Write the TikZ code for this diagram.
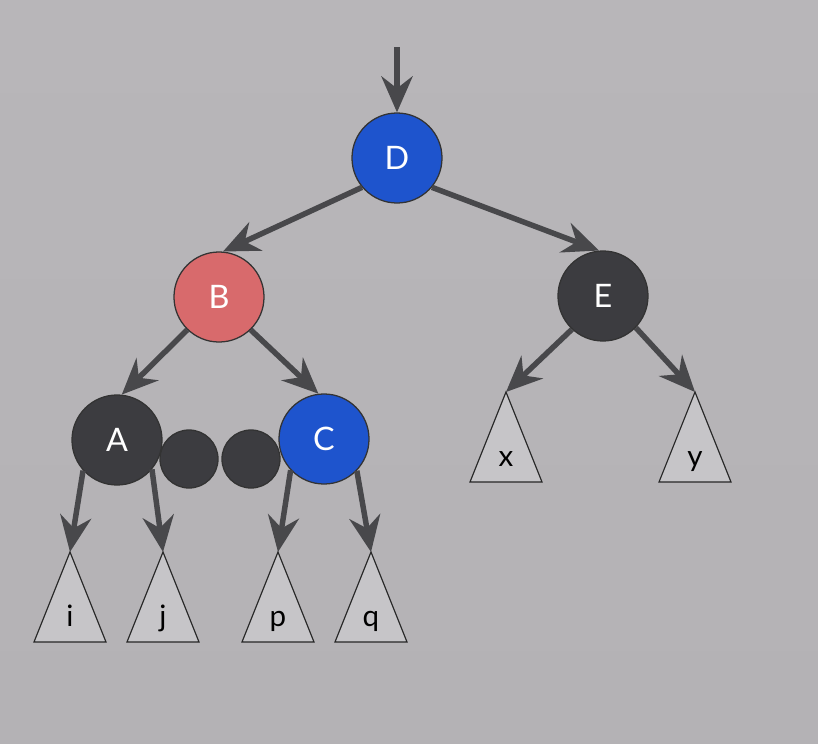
\documentclass[tikz,border=0pt]{standalone}
\usepackage{fontspec}
\setmainfont{Lato}
\usetikzlibrary{positioning,calc}
\usetikzlibrary{arrows.meta}
\definecolor{TreeBlue}{RGB}{30,84,205}
\definecolor{TreeRed}{RGB}{216,106,108}
\definecolor{TreeDark}{RGB}{60,60,64}
\definecolor{EdgeGray}{RGB}{72,72,75}
\definecolor{LeafGray}{RGB}{198,197,200}
\definecolor{BgTop}{RGB}{186,184,187}
\definecolor{BgMid}{RGB}{180,178,181}
\definecolor{BgBot}{RGB}{152,150,153}
\pgfdeclareverticalshading{backdrop}{100bp}{color(0bp)=(BgBot); color(25bp)=(BgMid); color(100bp)=(BgTop)}
\tikzset{
	rb/.style={circle,draw=black!80,line width=0.9pt,inner sep=0pt,minimum size=2.25cm,
		text=white,font=\fontsize{23}{23}\selectfont},
	bluenode/.style={rb,fill=TreeBlue},
	rednode/.style={rb,fill=TreeRed},
	blacknode/.style={rb,fill=TreeDark},
	nil/.style={circle,draw=black!80,line width=0.9pt,fill=TreeDark,inner sep=0pt,minimum size=1.45cm},
	edge/.style={draw=EdgeGray,line width=3.9pt,-{Stealth[length=0.9cm,width=0.78cm,inset=0.3cm]}},
	leaf/.style={draw=black!85,fill=LeafGray,line width=0.8pt},
	leaflabel/.style={font=\fontsize{21}{21}\selectfont,text=black,inner sep=0pt,anchor=base},
}

\begin{document}
\begin{tikzpicture}[x=0.025cm,y=-0.025cm]
	\shade[shading=backdrop] (0,0) rectangle (818,744);
	\useasboundingbox (0,0) rectangle (818,744);
	% subtrees
	\foreach \t/\x/\y in {i/70/552,j/163/552,p/278/552,q/371/552,x/506/392,y/695/392}{
		\coordinate (\t) at (\x,\y);
		\draw[leaf] (\t) -- ++(36,90) -- ++(-72,0) -- cycle;
		\node[leaflabel] at (\x,\y+74) {\t};
	}
	% tree nodes
	\node[nil] (n1) at (189,459) {};
	\node[nil] (n2) at (251,459) {};
	\node[bluenode] (D) at (397,158) {D};
	\node[rednode] (B) at (219,297) {B};
	\node[blacknode] (E) at (603,296) {E};
	\node[blacknode] (A) at (117,440) {A};
	\node[bluenode] (C) at (324,439) {C};
	\coordinate (root) at (397,47);
	% links
	\draw[edge] (root) -- (D.north);
	\draw[edge] (D.220) -- (B.85);
	\draw[edge] (D.320) -- (E.95);
	\draw[edge] (B.226) -- (A.84);
	\draw[edge] (B.314) -- (C.97);
	\draw[edge] (E.227) -- (x);
	\draw[edge] (E.316) -- (y);
	\draw[edge] (A.222) -- (i);
	\draw[edge] (A.320) -- (j);
	\draw[edge] (C.223) -- (p);
	\draw[edge] (C.316) -- (q);
\end{tikzpicture}
\end{document}
